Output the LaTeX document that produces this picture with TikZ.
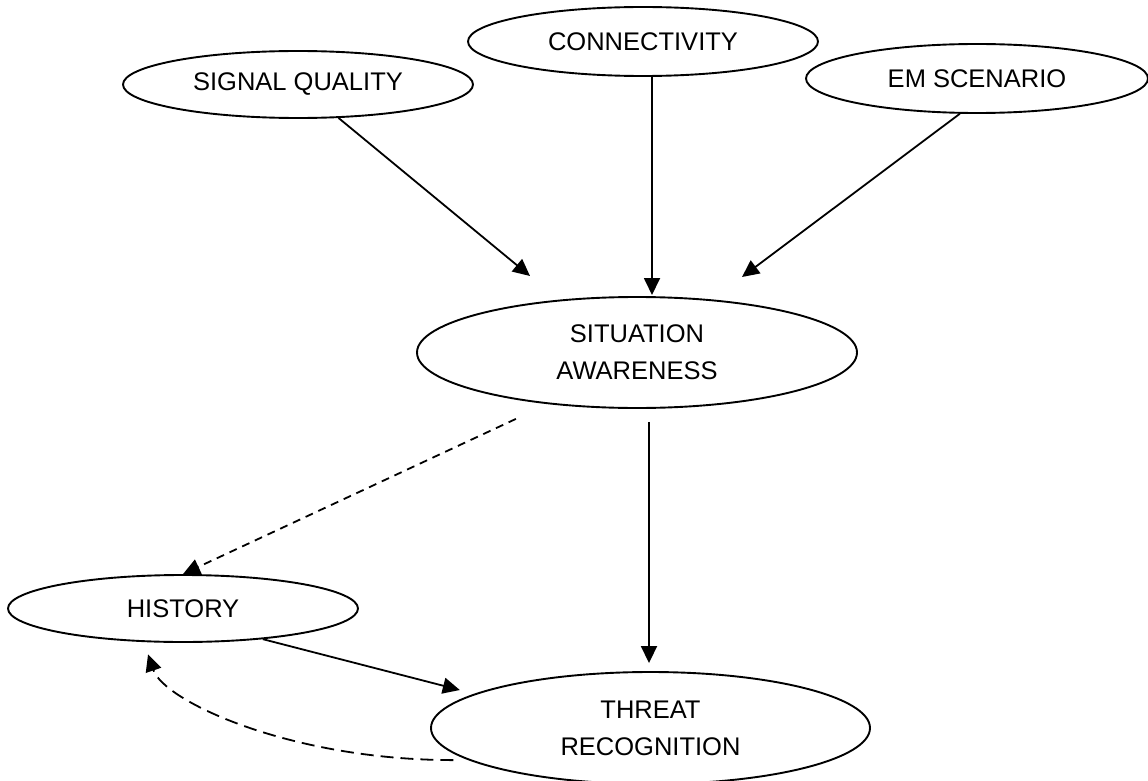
\documentclass[tikz,border=0pt]{standalone}
\usepackage{fontspec}
\setmainfont{Liberation Sans}
\usetikzlibrary{arrows.meta,shapes.geometric}
\begin{document}
\begin{tikzpicture}[x=1pt,y=-1pt,
  bubble/.style={ellipse,draw,line width=1.9pt,inner sep=0pt,align=center,
    font=\fontsize{25.5}{36.7}\selectfont},
  link/.style={line width=1.8pt,-{Triangle[length=17pt,width=16pt]}},
  fine dash/.style={dash pattern=on 8pt off 6pt},
  long dash/.style={dash pattern=on 13pt off 7pt}]
\useasboundingbox (0,0) rectangle (1148,781);

% inputs
\node[bubble,minimum width=350pt,minimum height=67pt] (sq)   at (298,84.5)  {SIGNAL QUALITY};
\node[bubble,minimum width=350pt,minimum height=69pt] (conn) at (643,41.5)  {CONNECTIVITY};
\node[bubble,minimum width=342pt,minimum height=69pt] (em)   at (977,78.5)  {EM SCENARIO};

% central nodes
\node[bubble,minimum width=440pt,minimum height=111pt] (sa) at (637,352.5) {SITUATION\\AWARENESS};
\node[bubble,minimum width=439pt,minimum height=112pt] (tr) at (650.5,728) {THREAT\\RECOGNITION};
\node[bubble,minimum width=350pt,minimum height=67pt]  (hist) at (183,608.5) {HISTORY};

% arrow ends that stop short of the awareness node
\coordinate (sqtip)   at (530,276);
\coordinate (conntip) at (652,295);
\coordinate (emtip)   at (742,277);

\draw[link] (sq) -- (sqtip);
\draw[link] (conn.south -| conntip) -- (conntip);
\draw[link] (em.244) -- (emtip);

\draw[link,shorten <=13pt,shorten >=8pt] ([xshift=12pt]sa.south) -- ([xshift=-1.5pt]tr.north);
\draw[link,fine dash,shorten <=35pt] (sa.210) -- (hist.north);
\draw[link,shorten >=15pt] (hist.339) -- (tr.169);
\draw[link,long dash] ([xshift=-15pt]tr.190) .. controls +(-163,0) and +(16,47) .. ([yshift=-12pt]hist.224);
\end{tikzpicture}
\end{document}
